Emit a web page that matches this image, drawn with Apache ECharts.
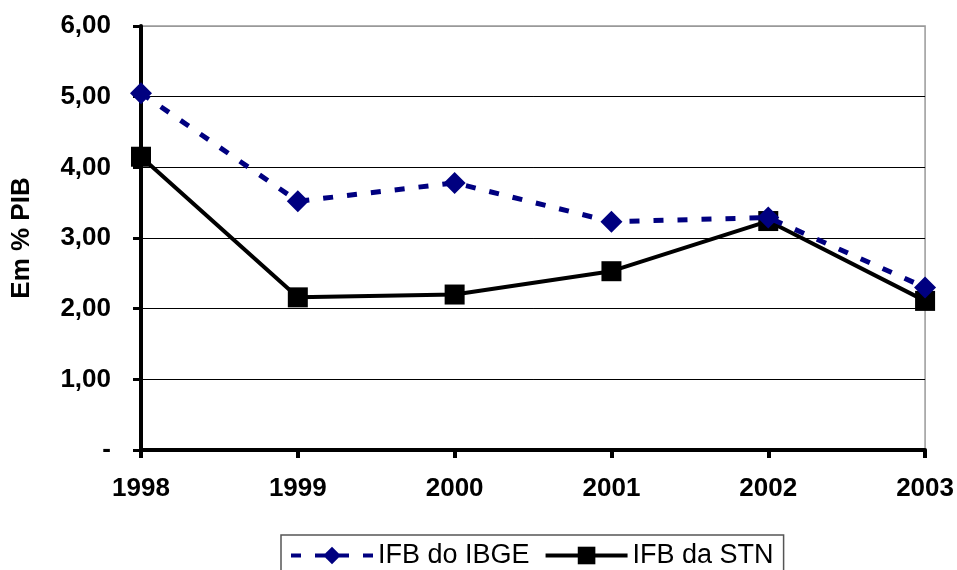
<!DOCTYPE html>
<html><head><meta charset="utf-8">
<script src="https://cdn.jsdelivr.net/npm/echarts@6/dist/echarts.min.js"></script>
<style>html,body{margin:0;padding:0;background:#fff}#c{width:957px;height:570px}</style>
</head><body><div id="c"></div>
<script>
const years = ['1998','1999','2000','2001','2002','2003'];
const ibge = [5.05, 3.52, 3.78, 3.23, 3.29, 2.30];
const stn = [4.15, 2.16, 2.20, 2.53, 3.24, 2.11];
const yTickLabels = ['-','1,00','2,00','3,00','4,00','5,00','6,00'];
const seriesNames = ['IFB do IBGE','IFB da STN'];

const chart = echarts.init(document.getElementById('c'), null, {renderer:'canvas'});
chart.setOption({
  animation:false,
  backgroundColor:'#fff',
  grid:{left:141,right:31,top:26,bottom:120,show:true,borderColor:'#999',borderWidth:1.5},
  xAxis:{type:'category',data:years,boundaryGap:false,
    axisLine:{lineStyle:{color:'#000',width:4}},
    axisTick:{show:true,length:8,lineStyle:{color:'#000',width:4}},
    axisLabel:{color:'#000',fontFamily:'Liberation Sans',fontWeight:'bold',fontSize:26,margin:26},
    splitLine:{show:false}},
  yAxis:{type:'value',min:0,max:6,interval:1,
    name:'Em % PIB',nameLocation:'middle',nameGap:106,nameRotate:90,
    nameTextStyle:{color:'#000',fontFamily:'Liberation Sans',fontWeight:'bold',fontSize:26},
    axisLine:{show:true,lineStyle:{color:'#000',width:4}},
    axisTick:{show:true,length:8,lineStyle:{color:'#000',width:3}},
    axisLabel:{color:'#000',fontFamily:'Liberation Sans',fontWeight:'bold',fontSize:26,margin:30,
      formatter:(v)=>yTickLabels[Math.round(v)]},
    splitLine:{show:true,lineStyle:{color:['#000','#000','#000','#000','#000','#000','#999'],width:1}}},
  legend:{show:true,left:281,top:535,itemWidth:82,itemHeight:22,itemGap:14,
    padding:[7,10,12,8],borderColor:'#555',borderWidth:1.5,
    lineStyle:{width:4},
    textStyle:{color:'#000',fontFamily:'Liberation Sans',fontSize:27},
    data:seriesNames},
  series:[
    {name:seriesNames[0],type:'line',data:ibge,symbol:'diamond',symbolSize:22,
      lineStyle:{color:'#000080',width:5,type:[10,14]},itemStyle:{color:'#000080'},z:3},
    {name:seriesNames[1],type:'line',data:stn,symbol:'rect',symbolSize:20,
      lineStyle:{color:'#000',width:4},itemStyle:{color:'#000'},z:2}
  ]
});
</script></body></html>
